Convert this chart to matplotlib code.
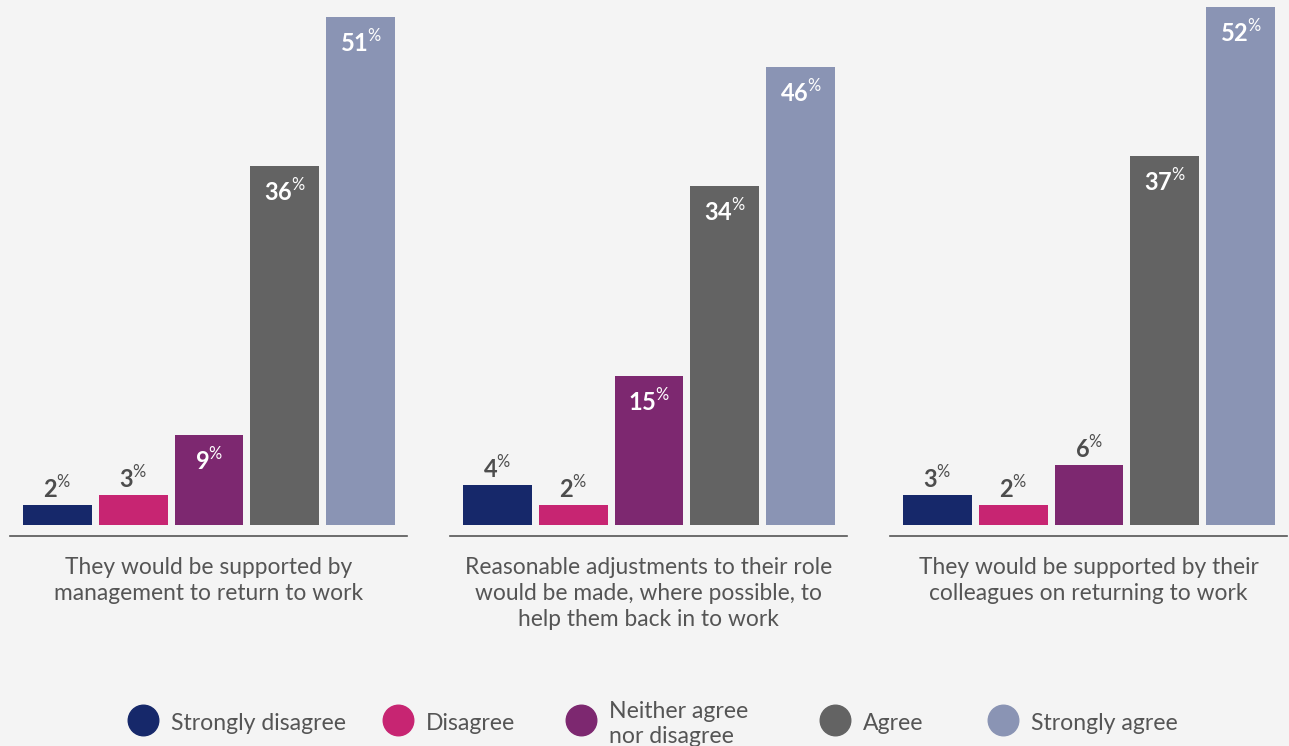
import matplotlib
matplotlib.use("Agg")
import matplotlib.pyplot as plt
from matplotlib.lines import Line2D

plt.rcParams['font.family'] = ['Lato', 'DejaVu Sans']
plt.rcParams['mathtext.fontset'] = 'custom'
plt.rcParams['mathtext.rm'] = 'Lato'

# survey responses, % of respondents
responses = ['Strongly disagree', 'Disagree', 'Neither agree\nnor disagree', 'Agree', 'Strongly agree']
statements = ['They would be supported by\nmanagement to return to work',
              'Reasonable adjustments to their role\nwould be made, where possible, to\nhelp them back in to work',
              'They would be supported by their\ncolleagues on returning to work']
management = [2, 3, 9, 36, 51]
adjustments = [4, 2, 15, 34, 46]
colleagues = [3, 2, 6, 37, 52]

colors = ['#16286a', '#c72572', '#7d2870', '#636363', '#8a94b4']
bg = '#f4f4f4'
text_col = '#4d4d4d'

fig = plt.figure(figsize=(12.89, 7.46), dpi=100, facecolor=bg)
W, H = 1289, 746

for i, (vals, label) in enumerate(zip([management, adjustments, colleagues], statements)):
    left = 10 + 440 * i
    ax = fig.add_axes([left / W, (H - 536) / H, 397 / W, 536 / H])
    ax.set_facecolor(bg)
    x = range(len(vals))
    ax.bar(x, vals, width=0.908, color=colors)
    ax.set_xlim(-0.625, 4.61)
    ax.set_ylim(-1.1, 52.7)
    for s in ['top', 'left', 'right']:
        ax.spines[s].set_visible(False)
    ax.spines['bottom'].set_color('#555555')
    ax.spines['bottom'].set_linewidth(1.2)
    ax.set_xticks([])
    ax.set_yticks([])
    for xi, v in zip(x, vals):
        s = f"{v}" + r"$^{\%}$"
        if v >= 9:
            ax.annotate(s, (xi, v), xytext=(0, -25), textcoords='offset pixels',
                        ha='center', va='center', color='white', fontsize=17, fontweight='bold')
        else:
            ax.annotate(s, (xi, v), xytext=(0, 17), textcoords='offset pixels',
                        ha='center', va='center', color=text_col, fontsize=17, fontweight='bold')
    ax.text(0.5, -21 / 536, label, transform=ax.transAxes, ha='center', va='top',
            fontsize=16.4, color='#555555', linespacing=1.28)

# legend row
legend_x = [143, 398, 581, 835, 1003]
for lx, c, r in zip(legend_x, colors, responses):
    fig.add_artist(Line2D([lx / W], [(H - 720) / H], marker='o', markersize=22,
                          color=c, linestyle='none', transform=fig.transFigure))
    fig.text((lx + 28) / W, (H - 724) / H, r, ha='left', va='center',
             fontsize=16.6, color='#555555', linespacing=1.28)

fig.savefig('out.png', dpi=100, facecolor=bg)
